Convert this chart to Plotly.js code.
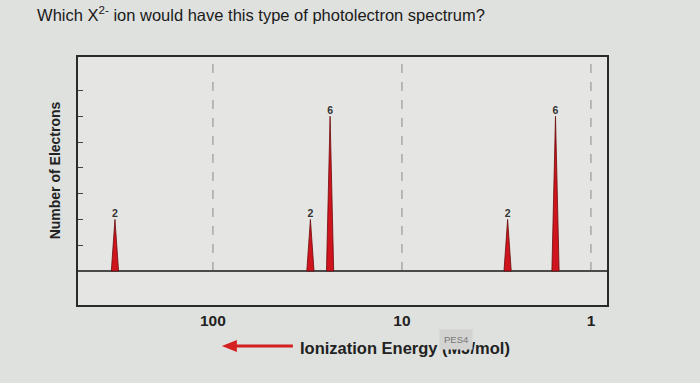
<!DOCTYPE html>
<html>
<head>
<meta charset="utf-8">
<script src="https://cdn.plot.ly/plotly-3.0.1.min.js"></script>
<style>html,body{margin:0;padding:0;background:#dfe1de;}#chart{width:700px;height:383px;}</style>
</head>
<body>
<div id="chart"></div>
<script>
// Peak energies (MJ/mol, log axis) and electron counts
const energies = [330, 30.5, 24, 2.76, 1.54];
const electrons = [2, 2, 6, 2, 6];
const peakLabels = ['2', '2', '6', '2', '6'];
const xTickVals = [100, 10, 1];
const xTickText = ['100', '10', '1'];
const yTickVals = [1, 2, 3, 4, 5, 6, 7];

const FONT = 'Liberation Sans, Arial, sans-serif';
const peakHalfWidth = 1.045; // multiplicative half-width on log axis
const traces = [];
energies.forEach((e, i) => {
  traces.push({
    type: 'scatter', mode: 'lines',
    x: [e * peakHalfWidth, e, e / peakHalfWidth, e * peakHalfWidth],
    y: [0, electrons[i], 0, 0],
    fill: 'toself', fillcolor: '#d0141e',
    line: {color: '#6a0a0a', width: 0.8},
    hoverinfo: 'skip', showlegend: false
  });
});
traces.push({
  type: 'scatter', mode: 'text',
  x: energies, y: electrons, text: peakLabels,
  textposition: 'top center',
  textfont: {family: FONT, size: 10.5, color: '#333', weight: 'bold'},
  showlegend: false, hoverinfo: 'skip'
});

const yMax = 8.3;
const shapes = xTickVals.map(v => ({
  type: 'line', xref: 'x', yref: 'y', x0: v, x1: v, y0: 0, y1: yMax,
  line: {color: '#8a8a8a', width: 1, dash: 'dash'}, layer: 'below'
}));
// red arrow left of the axis title
shapes.push({
  type: 'line', xref: 'paper', yref: 'paper', xsizemode: 'pixel', ysizemode: 'pixel',
  xanchor: 0.272, yanchor: -0.165, x0: 10, x1: 71, y0: 0, y1: 0,
  line: {color: '#d42020', width: 3}
});
shapes.push({
  type: 'path', xref: 'paper', yref: 'paper', xsizemode: 'pixel', ysizemode: 'pixel',
  xanchor: 0.272, yanchor: -0.165, path: 'M0,0 L15,6 L15,-6 Z',
  fillcolor: '#d42020', line: {color: '#d42020', width: 0}
});

const layout = {
  width: 700, height: 383,
  margin: {l: 78, r: 93, t: 57, b: 78},
  paper_bgcolor: '#dfe1de',
  plot_bgcolor: '#e5e6e3',
  title: {
    text: 'Which X<sup>2-</sup> ion would have this type of photolectron spectrum?',
    xref: 'container', yref: 'container', x: 0.053, xanchor: 'left', y: 0.96, yanchor: 'middle',
    font: {family: FONT, size: 16.5, color: '#1a1a1a'}
  },
  xaxis: {
    type: 'log', range: [2.714, -0.085],
    tickvals: xTickVals, ticktext: xTickText,
    tickfont: {family: FONT, size: 15.5, color: '#222', weight: 'bold'},
    ticks: '', showgrid: false, zeroline: false,
    showline: true, linecolor: '#2a2a2a', linewidth: 2, mirror: true,
    fixedrange: true
  },
  yaxis: {
    range: [-1.32, yMax],
    tickvals: yTickVals, showticklabels: false,
    ticks: 'inside', ticklen: 5, tickcolor: '#444', tickwidth: 1,
    showgrid: false,
    zeroline: true, zerolinecolor: '#4a4a4a', zerolinewidth: 1.5,
    showline: true, linecolor: '#2a2a2a', linewidth: 2, mirror: true,
    fixedrange: true
  },
  shapes: shapes,
  annotations: [
    {
      text: '<b>Number of Electrons</b>', textangle: -90,
      xref: 'paper', yref: 'paper', x: -0.043, y: 0.544, xanchor: 'center', yanchor: 'middle',
      showarrow: false,
      font: {family: FONT, size: 14, color: '#222'}
    },
    {
      text: '<b>Ionization Energy (MJ/mol)</b>',
      xref: 'paper', yref: 'paper', x: 0.618, y: -0.173, xanchor: 'center', yanchor: 'middle',
      showarrow: false,
      font: {family: FONT, size: 16.5, color: '#222'}
    },
    {
      text: 'PES4',
      xref: 'paper', yref: 'paper', x: 0.715, y: -0.14, xanchor: 'center', yanchor: 'middle',
      showarrow: false, bgcolor: '#d3d4d1', borderpad: 4,
      font: {family: FONT, size: 9.5, color: '#777'}
    }
  ]
};

Plotly.newPlot('chart', traces, layout, {displayModeBar: false, staticPlot: true});
</script>
</body>
</html>
